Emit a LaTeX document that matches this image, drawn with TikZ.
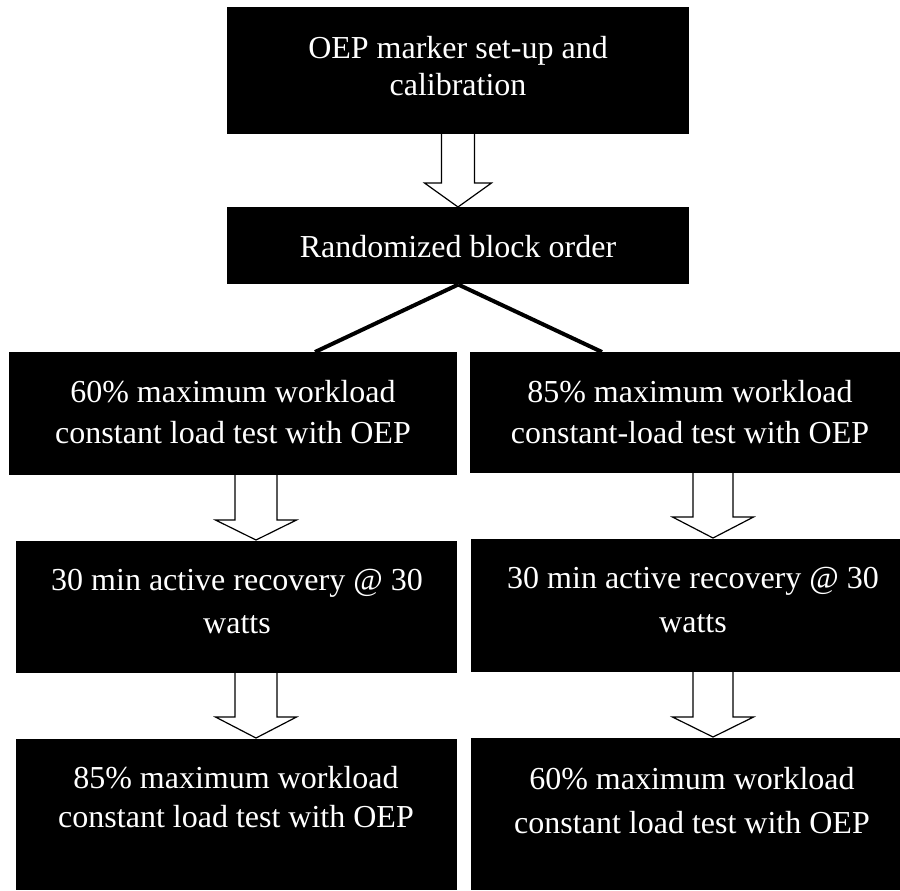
\documentclass[tikz,border=0pt]{standalone}
\usepackage{fontspec}
\setmainfont{Liberation Serif}
\newcommand\blkarrow[6]{% x, y0, y1, y2, shaft half width, head half width
  \draw[blk] (#1-#5,#2) -- (#1-#5,#3) -- (#1-#6,#3) -- (#1,#4) -- (#1+#6,#3) -- (#1+#5,#3) -- (#1+#5,#2);}
\begin{document}
\begin{tikzpicture}[x=0.75pt,y=-0.75pt,
  box/.style={fill=black,draw=none,inner sep=0pt,anchor=north west},
  txt/.style={text=white,align=center,anchor=base,inner sep=0pt},
  fs/.style={font=\fontsize{24pt}{#1}\selectfont},
  conn/.style={line width=3pt},
  blk/.style={draw=black,fill=white,line width=0.9pt,line join=miter}]
\useasboundingbox (0,0) rectangle (900,890);
% block arrows
\blkarrow{458}{134}{183}{207}{16.5}{33.5}
\blkarrow{256}{475}{520}{540}{21}{40.5}
\blkarrow{713}{473}{517}{538}{20}{40.5}
\blkarrow{256}{673}{717}{738}{21}{40.5}
\blkarrow{713}{672}{717}{737}{20}{40.5}
% boxes
\node[box,minimum width=462*0.75pt,minimum height=127*0.75pt] (b0) at (227,7) {};
\node[box,minimum width=462*0.75pt,minimum height=77*0.75pt] (b1) at (227,207) {};
\node[box,minimum width=448*0.75pt,minimum height=123*0.75pt] (l1) at (9,352) {};
\node[box,minimum width=430*0.75pt,minimum height=121*0.75pt] (r1) at (470,352) {};
\node[box,minimum width=441.5*0.75pt,minimum height=132*0.75pt] (l2) at (15.5,541) {};
\node[box,minimum width=429*0.75pt,minimum height=133*0.75pt] (r2) at (471,539) {};
\node[box,minimum width=441.5*0.75pt,minimum height=151*0.75pt] (l3) at (15.5,739) {};
\node[box,minimum width=429*0.75pt,minimum height=152*0.75pt] (r3) at (471,738) {};
% connectors from the randomization box
\coordinate (lend) at (315,352);
\coordinate (rend) at (602,352);
\draw[conn] (b1.south) -- (lend);
\draw[conn] (b1.south) -- (rend);
% texts (anchored at the baseline of the last line)
\node[txt,fs=27.75pt] (t0) at (458,95) {OEP marker set-up and\\calibration};
\node[txt,fs=30pt] (t1) at (458,257) {Randomized block order};
\node[txt,fs=30.75pt] (tl1) at (233,443) {60\% maximum workload\\constant load test with OEP};
\node[txt,fs=30.75pt] (tr1) at (690,443) {85\% maximum workload\\constant-load test with OEP};
\node[txt,fs=32.25pt] (tl2) at (237,633) {30 min active recovery @ 30\\watts};
\node[txt,fs=33pt] (tr2) at (693,632) {30 min active recovery @ 30\\watts};
\node[txt,fs=29.25pt] (tl3) at (236,827) {85\% maximum workload\\constant load test with OEP};
\node[txt,fs=33pt] (tr3) at (692,833) {60\% maximum workload\\constant load test with OEP};
\end{tikzpicture}
\end{document}
